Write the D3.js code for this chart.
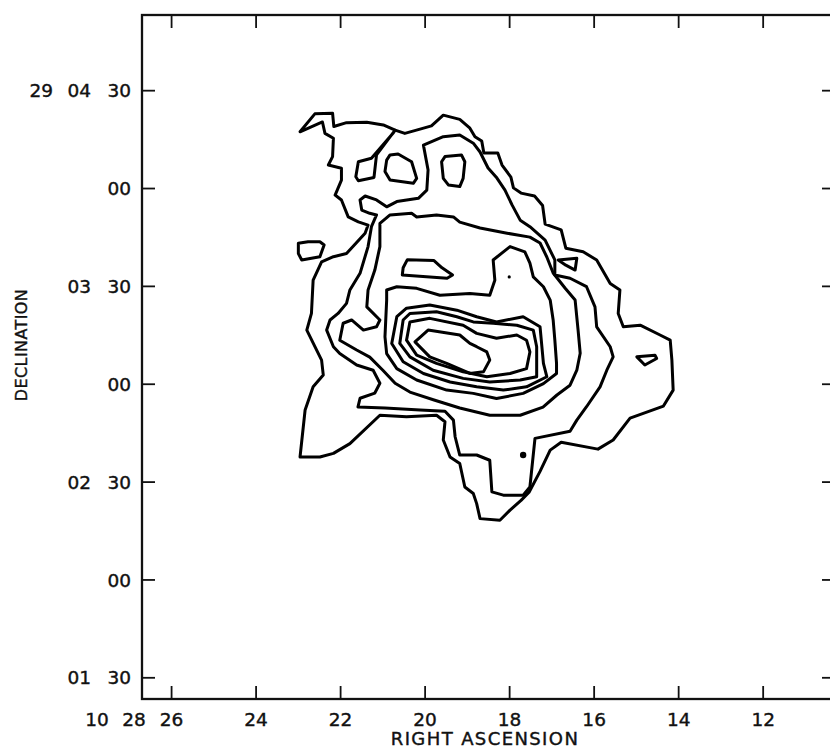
<!DOCTYPE html>
<html><head><meta charset="utf-8">
<script src="https://cdn.jsdelivr.net/npm/d3@7"></script>
<style>body{margin:0;background:#fff}</style>
</head><body><svg id="c" width="830" height="749"></svg>
<script>
// Right ascension seconds (10h28m..s) and declination arcsec offset from +29d00m00s
const raTicks = [26, 24, 22, 20, 18, 16, 14, 12];
const raLabels = ["26", "24", "22", "20", "18", "16", "14", "12"];
const decTicks = [270, 240, 210, 180, 150, 120, 90];
const decLabels = [["29", "04", "30"], ["", "", "00"], ["", "03", "30"], ["", "", "00"], ["", "02", "30"], ["", "", "00"], ["", "01", "30"]];

const contour1 = [[22.96,257.4],[22.61,262.9],[22.19,263.1],[22.16,259.0],[21.86,260.2],[21.38,260.3],[20.99,259.5],[20.71,257.9],[20.48,256.9],[20.12,258.2],[19.85,259.2],[19.57,262.5],[19.18,261.2],[18.94,258.5],[18.82,255.9],[18.66,254.6],[18.61,250.9],[18.28,250.9],[18.18,247.2],[17.97,243.5],[17.91,240.2],[17.73,238.6],[17.41,237.7],[17.22,234.8],[17.16,229.1],[16.78,227.3],[16.67,221.7],[16.26,220.6],[15.94,218.1],[15.62,210.9],[15.39,208.9],[15.43,201.7],[15.31,197.6],[14.91,198.1],[14.44,195.1],[14.20,193.5],[14.16,187.4],[14.13,178.2],[14.36,173.3],[15.15,169.6],[15.55,162.9],[15.91,160.1],[16.78,162.2],[17.04,159.8],[17.28,153.3],[17.54,146.9],[17.73,144.4],[17.99,141.4],[18.23,138.3],[18.70,138.8],[18.78,143.4],[18.86,146.5],[19.06,148.5],[19.18,155.7],[19.41,157.7],[19.57,162.9],[19.53,168.5],[19.73,170.5],[20.44,170.0],[21.07,170.5],[21.78,161.8],[22.17,158.8],[22.49,157.7],[22.96,157.7],[22.84,172.1],[22.65,179.2],[22.41,182.8],[22.45,187.4],[22.80,196.6],[22.69,201.7],[22.65,211.9],[22.45,217.5],[22.17,219.1],[21.86,220.1],[21.42,226.3],[21.35,228.8],[21.58,229.8],[21.82,231.3],[21.98,236.5],[22.13,238.0],[21.98,242.6],[21.98,246.2],[22.29,247.2],[22.19,249.8],[22.17,255.4],[22.37,256.9],[22.43,260.4]];
const islandA = [[20.71,257.9],[21.15,250.3],[21.21,243.4],[21.58,242.4],[21.64,243.6],[21.58,248.2],[21.27,249.3],[20.75,257.1]];
const islandB = [[20.83,250.3],[20.64,250.6],[20.32,248.2],[20.20,243.1],[20.28,241.6],[20.83,242.6],[20.95,245.2],[20.91,248.7]];
const islandC = [[19.53,249.8],[19.14,250.3],[19.06,248.2],[19.10,243.1],[19.18,240.6],[19.45,241.1],[19.57,243.1],[19.61,248.2]];
const islandW = [[23.00,223.2],[22.77,223.7],[22.49,223.7],[22.39,222.7],[22.49,219.1],[22.92,218.1],[23.00,220.1]];
const islandE1 = [[16.85,218.1],[16.41,218.6],[16.45,215.0],[16.67,216.5]];
const islandE2 = [[14.99,188.4],[14.56,188.9],[14.52,187.9],[14.80,185.9]];
const islandH = [[20.42,218.2],[19.79,217.9],[19.60,215.7],[19.35,213.5],[19.48,212.5],[20.54,213.5],[20.52,215.7]];
const contour2 = [[20.04,253.3],[19.57,255.9],[19.18,256.4],[18.86,253.9],[18.70,251.2],[18.51,246.3],[18.30,243.2],[18.11,239.5],[17.94,234.9],[17.75,230.3],[17.52,228.3],[17.16,224.2],[16.93,218.1],[16.93,213.5],[16.57,212.5],[16.18,209.9],[15.98,203.7],[15.94,197.6],[15.62,191.5],[15.55,188.4],[15.70,184.3],[15.86,179.2],[16.18,173.1],[16.41,169.0],[16.57,165.6],[17.40,163.4],[17.52,148.5],[17.68,146.0],[18.15,146.0],[18.42,147.0],[18.47,156.7],[18.78,158.3],[19.18,158.3],[19.29,163.9],[19.33,169.0],[19.53,171.7],[20.12,172.1],[20.95,172.7],[21.59,173.0],[21.54,175.7],[21.19,177.3],[21.07,180.3],[21.23,184.3],[21.62,185.9],[22.02,189.4],[22.17,191.5],[22.33,196.6],[22.25,199.7],[22.06,201.7],[21.86,204.8],[21.78,208.9],[21.54,214.0],[21.35,222.2],[21.27,228.3],[21.15,231.9],[21.31,232.4],[21.50,233.4],[21.54,236.5],[21.42,237.7],[21.15,236.5],[20.91,234.4],[20.67,236.0],[20.16,237.0],[19.96,239.5],[19.93,245.7]];
const contour3 = [[21.07,229.3],[20.83,231.9],[20.32,232.4],[20.20,231.3],[19.73,231.9],[19.33,231.3],[19.18,229.7],[18.70,227.9],[18.06,226.3],[17.52,225.1],[17.28,223.3],[17.12,219.0],[16.97,214.1],[16.69,209.5],[16.45,205.8],[16.38,196.6],[16.33,189.5],[16.41,184.3],[16.57,179.7],[16.88,176.7],[17.21,173.0],[17.75,170.5],[18.47,170.5],[19.18,172.7],[19.77,175.1],[20.36,177.6],[20.71,180.3],[21.00,184.3],[21.31,188.3],[21.62,190.5],[22.02,193.5],[21.94,198.7],[21.74,199.7],[21.46,196.6],[21.15,197.6],[21.07,199.7],[21.38,203.7],[21.35,208.9],[21.19,215.0],[21.07,222.2]];
const contour4 = [[20.91,208.9],[20.67,209.9],[20.20,209.4],[19.65,207.3],[18.94,207.8],[18.47,207.3],[18.35,211.9],[18.39,218.1],[17.99,222.2],[17.64,220.6],[17.52,217.1],[17.44,212.9],[17.20,209.9],[17.04,205.8],[16.97,199.7],[16.93,193.5],[16.89,186.4],[16.89,183.3],[17.20,180.2],[17.68,177.2],[18.31,175.6],[18.86,177.2],[19.49,178.2],[20.20,181.3],[20.67,184.8],[20.91,189.4],[20.95,194.5],[20.91,205.8]];
const contour5 = [[20.79,192.5],[20.67,200.7],[20.44,203.3],[19.89,204.3],[19.25,202.7],[18.78,200.7],[18.31,199.1],[17.68,200.7],[17.28,197.6],[17.20,186.4],[17.12,182.3],[17.60,179.2],[18.15,178.2],[18.78,179.2],[19.41,180.7],[20.04,183.3],[20.52,186.9]];
const contour6 = [[20.60,192.5],[20.52,199.7],[20.36,201.7],[19.73,202.2],[19.25,200.7],[18.86,199.1],[18.39,198.7],[17.83,198.1],[17.44,196.6],[17.36,191.5],[17.36,182.3],[17.75,181.3],[18.47,180.7],[19.10,181.8],[19.81,184.3],[20.36,188.4]];
const contour7 = [[20.44,193.5],[20.36,199.1],[19.89,200.2],[19.10,198.1],[18.78,195.6],[18.31,194.1],[17.83,195.1],[17.60,193.5],[17.52,189.9],[17.60,184.8],[17.99,183.3],[18.54,182.3],[19.10,183.8],[19.73,186.4],[20.20,188.9]];
const contour8 = [[20.24,193.0],[19.93,196.6],[19.18,195.1],[18.94,192.5],[18.78,191.5],[18.54,189.9],[18.47,187.4],[18.62,183.8],[18.94,183.3],[19.49,186.4],[19.89,188.4]];
const dots = [[18.01,212.9,1.6],[17.68,158.3,3.2]];

const closedContours = [contour1, islandA, islandB, islandC, islandW, islandE1, islandE2, contour2, contour3, islandH, contour4, contour5, contour6, contour7, contour8];

const svg = d3.select("#c");
svg.append("rect").attr("width",830).attr("height",749).attr("fill","#fff");
const x = d3.scaleLinear().domain([26.70, 10.30]).range([142, 835]);
const y = d3.scaleLinear().domain([83.5, 293.2]).range([699, 15]);
const font = "'DejaVu Sans', 'Liberation Sans', sans-serif";

svg.append("rect").attr("x", x(26.70)).attr("y", y(293.2))
  .attr("width", x(10.30) - x(26.70)).attr("height", y(83.5) - y(293.2))
  .attr("fill", "none").attr("stroke", "#111").attr("stroke-width", 2.3);

const tl = 13;
const g = svg.append("g").attr("stroke", "#111").attr("stroke-width", 1.8);
raTicks.forEach(t => {
  g.append("line").attr("x1", x(t)).attr("x2", x(t)).attr("y1", y(83.5)).attr("y2", y(83.5) - tl);
  g.append("line").attr("x1", x(t)).attr("x2", x(t)).attr("y1", y(293.2)).attr("y2", y(293.2) + tl);
});
decTicks.forEach(t => {
  g.append("line").attr("x1", x(26.70)).attr("x2", x(26.70) + tl).attr("y1", y(t)).attr("y2", y(t));
  g.append("line").attr("x1", x(10.30)).attr("x2", x(10.30) - tl).attr("y1", y(t)).attr("y2", y(t));
});

const txt = svg.append("g").attr("font-family", font).attr("font-size", 18.5).attr("fill", "#111")
  .attr("stroke", "#111").attr("stroke-width", 0.4);
raTicks.forEach((t, i) => {
  txt.append("text").attr("x", x(t)).attr("y", 726).attr("text-anchor", "middle").text(raLabels[i]);
});
txt.append("text").attr("x", 97).attr("y", 726).attr("text-anchor", "middle").text("10");
txt.append("text").attr("x", 134).attr("y", 726).attr("text-anchor", "middle").text("28");
decTicks.forEach((t, i) => {
  const [d, m, s] = decLabels[i];
  txt.append("text").attr("x", 131).attr("y", y(t) + 6.7).attr("text-anchor", "end").text(s);
  if (m) txt.append("text").attr("x", 91).attr("y", y(t) + 6.7).attr("text-anchor", "end").text(m);
  if (d) txt.append("text").attr("x", 53).attr("y", y(t) + 6.7).attr("text-anchor", "end").text(d);
});
txt.append("text").attr("x", 485).attr("y", 745).attr("text-anchor", "middle").attr("font-size", 18).attr("letter-spacing", 1.4).text("RIGHT ASCENSION");
txt.append("text").attr("transform", "translate(27,345) rotate(-90)").attr("text-anchor", "middle").attr("font-size", 16).attr("letter-spacing", 0.4).text("DECLINATION");

const line = d3.line().x(d => x(d[0])).y(d => y(d[1])).curve(d3.curveLinearClosed);
svg.append("g").selectAll("path").data(closedContours).join("path")
  .attr("d", line).attr("fill", "none").attr("stroke", "#000")
  .attr("stroke-width", 3).attr("stroke-linejoin", "round");
svg.append("g").selectAll("circle").data(dots).join("circle")
  .attr("cx", d => x(d[0])).attr("cy", d => y(d[1])).attr("r", d => d[2]).attr("fill", "#000");
</script></body></html>
